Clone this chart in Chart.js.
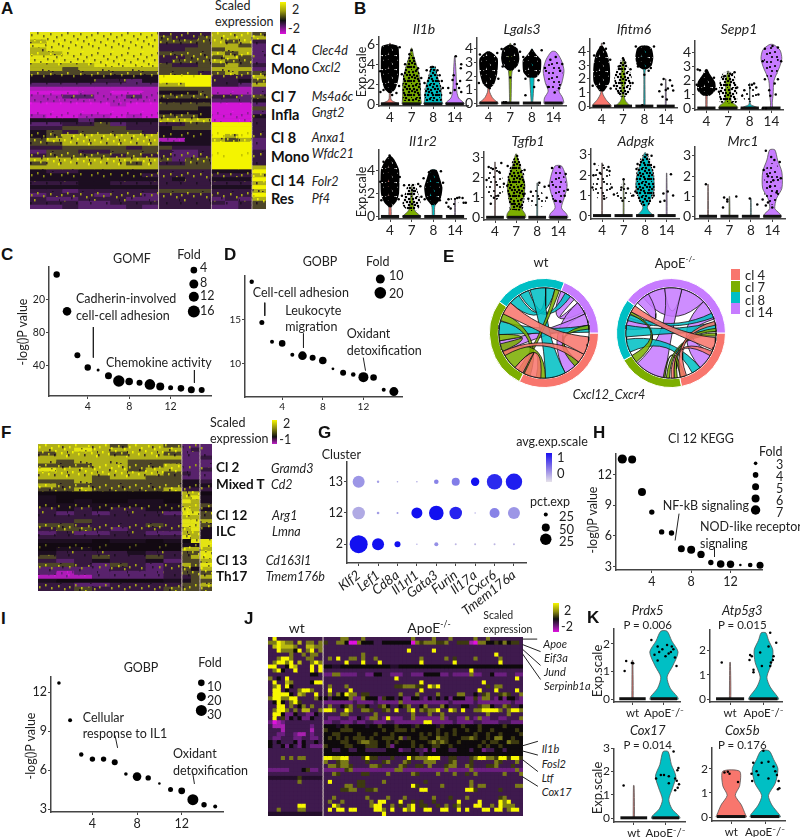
<!DOCTYPE html>
<html>
<head>
<meta charset="utf-8">
<title>Figure</title>
<script src="https://cdn.jsdelivr.net/npm/chart.js@4/dist/chart.umd.js"></script>
<style>
html,body{margin:0;padding:0;background:#fff}
#page{position:relative;width:800px;height:837px;overflow:hidden;background:#fff}
canvas{position:absolute}
.t{position:absolute;white-space:nowrap;line-height:1;font-family:Lato,"Open Sans",sans-serif;font-size:12.5px;color:#222;transform:translateY(-50%)}
.c{transform:translate(-50%,-50%)}
.r{transform:translate(-50%,-50%) rotate(-90deg)}
.i{font-style:italic}
.b{font-weight:700;font-size:14.5px;color:#111}
.L{font-family:"Liberation Sans",Arial,sans-serif;font-weight:700;font-size:17px;color:#111}
.bar{position:absolute}
.t sup{font-size:.62em;line-height:0}
</style>
</head>
<body>
<div id="page"></div>
<script>
// ---------- data: bubble panels
var indexX = [1,2,3,4,5,6,7,8,9,10,11,12,13,14,15];
var cValue = [150,105.6,52.8,38,35,28,21.6,21,19.6,17.6,15,13.6,12.8,11,10.8];
var cFold = [3.2,4.3,3,3.2,1.5,3.5,5.7,3.8,3,5.3,4,2.5,3.3,3.5,3];
var dValue = [19.35,14.7,12.5,12.3,11,10.9,10.65,10.35,9.4,8.95,8.75,8.45,8.4,7,6.8];
var dFold = [2.2,2.5,2,3.3,2,4.3,3,3.8,1.4,3,2.3,5,3.3,2,4.5];
var hValue = [13.54,13.5,10.3,8.34,6.4,6.3,4.75,4.65,4.2,3.4,3.26,3.23,3.16,3.16,3.13];
var hFold = [4.6,4,4,2.7,2.7,2.7,3.5,4,3.7,2.7,3.8,3.7,1.3,2.3,3.5];
var iValue = [12.72,9.85,7.2,6.85,6.85,6.6,5.7,5.5,5.4,4.97,4.5,4.4,3.72,3.33,3.2];
var iFold = [1.8,2,2.2,2.7,2.7,3,1.8,4.3,2.7,1.3,2.5,3.4,5.5,2.7,2];

// ---------- data: dot plot G
var gGenes = ["Klf2","Lef1","Cd8a","Il1rl1","Gata3","Furin","Il17a","Cxcr6","Tmem176a"];
var gClusters = ["2","12","13"];
var gPct = [[9,6,3,.7,2,1,1,1,1],[6.3,1.3,1,5.5,7.3,6.3,.7,5,6],[6,1.2,.8,.8,2.3,4,4.2,7.7,8.2]];
var gAvg = [[1,1,1,-.2,.0,-.3,-.3,-.3,-.3],[-.2,-.1,-.1,1,1,.85,-.2,.1,-.05],[-.05,-.1,-.2,-.2,.1,.15,1,.8,.9]];

// ---------- data: chords, [from start, from end, to start, to end, cluster], degrees clockwise from 3 o'clock
var clusterColors = ["#F8766D","#7CAE00","#00BFC4","#C77CFF"];
var clusterNames = ["cl 4","cl 7","cl 8","cl 14"];
var wtSectors = [117,98,77,68];
var apoeSectors = [79,71,67,143];
var wtChords = [[5,28,205,222,0],[94,116,118,130,0],[28,40,150,156,0],[88,100,130,155,1],[196,206,108,117,1],[284,290,120,125,1],[350,355,40,47,1],[156,166,170,178,1],
 [62,88,252,272,2],[350,359,178,195,2],[222,236,272,284,2],[238,250,298,306,2],[155,170,335,350,3],[40,62,318,335,3],[292,312,318,332,3]];
var apoeChords = [[6,22,208,217,0],[24,30,86,90,0],[70,78,345,350,0],[82,86,354,358,1],[92,96,0,4,1],[72,78,98,100,1],[140,150,205,208,1],
 [50,62,155,172,2],[175,190,346,358,2],[196,204,334,340,2],[98,138,262,284,3],[26,50,316,342,3],[185,200,222,240,3],[232,262,284,316,3]];

// ---------- data: violins. shape / cloud are [y,half width,...]; dots are [x offset,y,...]
var il1bShape = [[0,.42,.12,.3,.4,.06,1,.03,3,.05,5,.05,6.1,.02],[0,.44,.5,.42,2,.4,3,.34,4,.22,4.8,.1,5.6,.02],[0,.44,.3,.4,1,.38,2,.3,3,.16,3.7,.08],[0,.44,.2,.38,.6,.18,1.2,.1,2.5,.07,3.5,.05,4.8,.01]];
var il1bCloud = [[1.1,.06,1.5,.25,2.2,.36,3,.42,5,.42,5.8,.38,6,.1],[.3,.4,2,.42,3,.38,4,.22,5,.08],[.3,.38,1,.42,2,.35,3,.2,3.8,.1],[]];
var il1bDense = [3,2,2,0];
var il1bDots = [[-.44,1.2,-.3,1.4,.42,1.8,.3,1.1,.1,.9,-.45,3.3,.45,5.7],[-.1,5,0,5.4,.1,4.6,-.3,4,.3,3.6,.45,2.6,-.45,3],[-.3,3.4,.2,3.4,-.1,3.7,.4,2.3,-.4,2.1,.45,1.6,.3,2.9],[.05,4.8,.3,4,.28,3.6,-.1,2.4,.1,2,-.3,1.6,.2,1.6,-.2,1.1,.3,1.2,0,1.4,-.05,2.9,.25,2.3]];

var lgals3Shape = [[0,.45,.15,.35,.4,.18,.9,.04,2,.05,3.7,.02],[0,.03,2,.06,3,.12,4.4,.02],[0,.03,2,.1,3.5,.05,4,.02],[0,.45,.4,.42,.9,.25,1.5,.38,2.4,.48,3.2,.35,3.8,.1]];
var lgals3Cloud = [[1.1,.05,1.4,.25,2.2,.4,3.3,.42,3.8,.1],[2.4,.1,2.8,.35,3.3,.42,4,.35,4.3,.1],[1.9,.2,2.3,.4,3.2,.42,3.6,.2,3.9,.05],[1,.25,2,.4,3,.35]];
var lgals3Dense = [3,3,3,1];
var lgals3Dots = [[-.4,3.6,.4,3.7,.2,3.4,-.45,1.5,.45,1.8,.05,1.1],[-.4,4,.2,4.35,.45,3.8,-.35,2.7,.4,2.4,0,1.9,-.3,.08,-.2,.08],[.45,3.9,0,3.9,-.4,3.4,.3,1.7,-.3,1.8,.1,1.2,-.3,.6],[-.25,1.2,.25,1.1,.05,.8,.4,2.9,-.4,2.6,.1,3.4,-.15,3.2,.3,2.4]];
var ifitm6Shape = [[0,.45,.15,.4,.5,.2,1,.04,2.5,.06,4,.04,4.6,.01],[0,.42,.1,.3,.4,.12,.8,.05,2,.1,3,.06,3.5,.01],[0,.03,2.5,.03,3,.1,3.8,.14,4.4,.02],[0,.02,2,.01]];
var ifitm6Cloud = [[1.1,.1,1.8,.38,3,.38,3.9,.25,4.4,.05],[.7,.1,1.2,.35,2.2,.4,3,.2,3.5,.05],[2.7,.1,3,.35,3.6,.42,4.2,.35,4.4,.2],[]];
var ifitm6Dense = [3,2,3,0];
var ifitm6Dots = [[.1,4.6,-.05,4.3,.2,4.2,-.35,3.7,.4,3.4,-.42,1.5,.42,1.3],[0,3.5,.1,3.2,-.2,2.9,.35,2.7,-.42,1.5,.45,1.7,-.2,1],[-.1,.08,0,2.3,.2,2.6,-.4,4.35,.45,4.35,-.3,2.9,.3,2.8],[-.1,2,.2,1.9,-.2,1.6,.3,1.5,.1,1.3,-.3,1.1,.35,1.15,0,1.2,-.15,.7,.05,.5]];
var sepp1Shape = [[0,.03,2.8,.02],[0,.45,.2,.38,.5,.15,1,.12,2,.1,2.7,.01],[0,.42,.15,.2,.3,.03,1.8,.01],[0,.05,.4,.04,1,.08,2,.12,3,.38,3.6,.48,4.2,.4,4.6,.1]];
var sepp1Cloud = [[.9,.15,1.3,.42,1.9,.4,2.5,.15,2.8,.05],[.4,.38,1.2,.42,2,.38,2.6,.2],[.5,.2,1,.35,1.5,.2,1.8,.08],[2.2,.2,3,.32,4,.32,4.4,.1]];
var sepp1Dense = [3,2,1,1];
var sepp1Dots = [[-.4,2.8,-.3,2.75,.02,2.7,.35,2.2,-.45,1.7,.45,1.4],[.3,2.6,.1,2.5,-.2,2.3,.42,1.5,-.42,1.2],[.2,1.8,.1,1.7,.3,1.5,-.25,1.3,-.35,.9,.4,1],[-.05,.9,.2,1,.15,1.8,-.3,2.1,.3,2.1,-.1,1.3,.05,4.5,-.3,4.3,.3,4.4,-.4,3.4,.45,3.4,-.4,0,-.25,0]];
var il1r2Shape = [[0,.05,.9,.05,3,.1,5,.02],[0,.42,.15,.35,.5,.15,1,.08,2.7,.01],[0,.05,.8,.06,2,.2,3,.25,4,.1],[0,.02,1.6,.01]];
var il1r2Cloud = [[.8,.05,1.3,.3,2,.42,4,.42,4.9,.2,5.2,.05],[.5,.18,1,.42,1.7,.35,2.8,.15],[1,.1,1.6,.35,2.5,.42,3.3,.3,4,.15],[1,.1,1.6,.2]];
var il1r2Dense = [3,2,3,1];
var il1r2Dots = [[-.02,5.25,.2,4.6,-.3,4.7,.45,3.4,-.45,3,-.4,1.4,.4,1.5],[.4,2.6,.3,2.8,-.35,2.7,-.45,1.8,.45,1.7,.1,2.2],[.35,3.9,-.2,3.8,-.45,3.3,.45,2.9,-.4,1.5,.3,1.4],[.35,1.6,.2,1.65,-.4,1.2,-.3,1.5,.1,1.6,.5,1.2,-.2,.7,-.3,.85,.4,1.2]];
var tgfb1Shape = [[0,.02,2.8,.01],[0,.45,.2,.42,.5,.25,1,.35,1.6,.42,2.2,.3,2.8,.12,3.2,.02],[0,.02,1.75,.01],[0,.45,.2,.38,.5,.15,1,.28,1.6,.42,2.2,.32,2.6,.15]];
var tgfb1Cloud = [[.9,.1,1.4,.42,2,.35,2.6,.2],[.4,.3,1.4,.42,2.2,.38,3,.1],[.5,.15,.8,.42,1.1,.3,1.7,.05],[.8,.25,1.6,.38,2.2,.25,2.5,.08]];
var tgfb1Dense = [1,2,1,1];
var tgfb1Dots = [[-.3,2.55,-.1,2.45,.3,2.75,.2,2.3,-.4,1.9,.42,1.7,-.05,1,.15,1.1,-.2,.7],[.05,3.1,-.4,2.6,.4,2.4,-.42,1.6,.4,1.2,-.1,.7,.2,.55],[.1,1.75,-.3,1.3,.35,1.55,-.42,.95,.45,1],[.05,2.55,-.3,2.5,.35,2.2,-.45,1.6,.45,1.4,.1,.8,-.15,.85,.3,1.1]];
var adpgkShape = [[0,.02,2.6,.01],[0,.02,1.8,.01],[0,.42,.15,.25,.4,.1,.8,.25,1.4,.42,2,.38,2.6,.2,3.1,.02],[0,.02,2.1,.01]];
var adpgkCloud = [[.8,.15,1.2,.42,2,.38,2.5,.15],[.7,.3,1,.42,1.4,.12,1.8,.03],[.5,.15,1,.42,2,.42,2.6,.3,3,.1],[]];
var adpgkDense = [1,1,2,0];
var adpgkDots = [[-.35,2.55,.3,2.4,.35,2.2,-.4,2,-.1,2.1,.45,1.4,-.45,1.4,.1,.85],[0,1.8,-.1,1.4,.2,1.35,-.45,1.05,.45,1,-.05,.75],[.1,3,.3,2.95,-.35,2.55,.42,2.4,-.4,2.3,-.45,1.2,.4,1],[.2,2.05,-.15,1.1,.05,1.2,.3,1,-.1,.75,-.3,.7]];
var mrc1Shape = [[0,.02,1.6,.01],[0,.02,1,.01],[0,.02,.9,.01],[0,.42,.15,.35,.4,.12,.9,.2,1.4,.45,2.2,.45,2.8,.25,3.3,.12]];
var mrc1Cloud = [[],[],[],[.6,.1,1,.35,2,.35,2.6,.2]];
var mrc1Dense = [0,0,0,1];
var mrc1Dots = [[-.1,1.6],[-.25,.95,-.1,.85,-.1,.75,.32,1,-.3,.45],[-.05,.9,.3,.6,.55,.85],[-.3,3.25,-.05,2.95,.1,2.8,.35,2.7,-.4,2.3,.4,1.9,-.3,.55,-.2,.7,0,.45,.05,1.8,-.1,1.5,.2,1.2,-.2,2]];

var prdx5Shape = [[0,.02,1.4,.01],[0,.45,.1,.42,.4,.2,.8,.1,1.2,.28,1.7,.45,2.1,.25,2.45,.1]];
var prdx5Dots = [[-.25,1.02,-.2,1.38,.02,1.3,-.02,1.31],[-.4,2.13,-.2,1.9,-.05,1.8,.1,1.95,.3,1.8,.22,1.7,-.3,1.6,.05,1.55,.35,1.5,.4,1.2,-.2,1.4,.15,1.65,-.15,1.7,.25,1.9]];
var atp5g3Shape = [[0,.02,1.5,.01],[0,.45,.1,.42,.5,.2,.9,.1,1.5,.25,2,.28,2.4,.15,2.7,.07]];
var atp5g3Dots = [[-.25,1.5],[.2,2.7,.38,2.3,.15,2.15,-.1,1.9,-.4,1.8,-.35,1.75,.3,1.75,.28,1.6,.22,1.5,-.05,1.35,-.3,1.2,-.3,1.1,.2,1.35,-.42,1.6]];
var cox17Shape = [[0,.02,1.4,.01],[0,.45,.1,.42,.4,.2,.8,.1,1.3,.22,1.8,.32,2.3,.18,2.85,.08]];
var cox17Dots = [[-.32,1.4],[.25,2.85,.4,2.15,.37,2.05,-.15,1.85,-.05,1.85,.1,1.8,-.3,1.7,.3,1.7,.35,1.6,.42,1.45,.38,1.3,.3,1.2,.1,1.5]];
var cox5bShape = [[0,.45,.1,.42,.5,.3,.9,.12,1.3,.25,1.9,.25],[0,.45,.1,.42,.5,.2,.9,.1,1.4,.3,2,.38,2.4,.25,2.75,.12]];
var cox5bDots = [[-.2,1.85,-.1,1.88,-.05,1.8,.2,1.45],[-.05,2.75,-.35,2.25,-.1,2.25,.1,2.3,.25,2.1,-.4,1.8,-.2,1.75,.35,1.75,.1,1.6,.4,1.5,-.38,1.5,.42,1.2,.38,1.15,-.25,1.9,.3,1.9]];

// ---------- data: heatmaps, one character per block of cells
var aRows = ["YYYYYYYY|pppp|yyy|o","YYYYYYYY|oppo|yyy|y","yYYYYYYY|oooo|yoy|p","YYYYYYYY|pppo|yyo|P","yYYYYYYY|ppoo|oyy|P","yyYYYYYY|oooo|yoy|P","YYYYYYYY|ppoo|oyo|P","YYYYYYYY|pooo|yoo|P","yyyyYYYY|oppo|oyo|p",
"yyoyyyyy|oooo|yyy|P","oooooooo|ooop|oyo|o","kkkkkkkk|SSSS|ppp|y","kkkkppPk|SSSS|ppk|o","PPPPPPPP|yySS|ppP|y","mmmmmmmm|oooo|mmm|P","MMMmmMMm|kkko|mmm|P","mmPPmmPm|oooo|ppP|o","mmmmmmmm|kkkk|PPP|k",
"MMMMMmMM|oooo|MMM|P","MMMMMMMM|oook|MMM|o","MMMMMMMM|kkkk|MMM|P","mMMmmMmM|oook|MMM|k","kkkPkkkk|yyyy|MMM|p","PPppoPpp|ppoo|SSS|p","ppoooopp|kooo|SSS|p","kopoooop|kkkk|SSS|p","koyyyyyy|kkkk|SyS|p",
"oyyyyyyy|mmkk|yoy|P","ooyyyyyy|kkkk|SSS|P","ppoooopo|oppp|SSS|P","Pooppooo|pPPp|SSS|p","poooopop|pPPp|SSS|p","yyyyyyyy|oPoo|SSS|p","oyyyyyoy|ppoo|SSS|p","yyyyyyyy|oooo|SSS|y",
"kppkkkkk|pppp|kkk|S","kkkkkkkp|pppp|ppp|y","kkkkkkkk|pkpp|kkk|S","pppkkppp|pppp|ppp|y","kkkkkkkk|pppp|kkk|S","ppPppppp|oooo|ppp|y","PpppPppP|pppp|ppp|S","pPPpppPP|pppp|PpP|y","pppPPppp|pppp|pPp|o","PPpPPPpP|pppp|PPp|o"];
var aWidths = [16,16,16,16,16,16,16,16,1,13,13,13,13,.8,13.3,13.3,13.3,.8,14];
var fRows = ["yyyyoyyo|PP|P","yyYyyyyy|Pp|P","oyyyoyyo|PP|P","yyyyyyyy|PP|p","yoyyyooo|PP|P","oooyyooy|PP|P","Yyyyyoyy|PP|p","yyyyyyyo|pP|P","yyyoyyoo|PP|P","ooyooooo|kk|p","yooooooo|kk|k","ooyooooy|pp|p",
"KKKKKKKK|yy|K","kKKKKKKK|yY|k","kKkKKkkK|Yy|k","kkkkkkkk|yy|o","pkpkppkk|Yy|k","pPpPpppP|YY|o","pppppppp|yy|o","ppoppppp|YY|y","ooppppop|YY|o","poopPppp|yY|k","PpPPppPP|yy|k","pppppppp|Yy|k",
"kkkKkkKk|KY|Y","KKKKKKKK|kk|Y","KkkKKKKK|yy|y","kppppkpp|oo|Y","oppoppop|oy|Y","pPpkppkP|oo|y","oopPopPp|yo|Y","PPPPppPp|ok|y","PmPPPPPp|oo|o","mmmPPPPp|po|y","kKKKKKKk|ko|o","ppPPpppp|oo|y","ppoppppo|oo|o"];
var fWidths = [18,18,18,18,18,18,18,18,1,8.6,8.6,1,12];
var jRows = [
"3933333333333|333377333733333333333733337333733333733733333333",
"7798773837737|633775007555335555555076777667336661077556575663",
"3898887338877|333333333333333333333333333333333333333333333333",
"3397775937937|333333333333333333339333339333333333333333333333",
"3333373373773|333333333733333333333333333333333333333339333333",
"3379973337733|373933773733733333333337333337363333733333733333",
"3799793833797|333339333933393333333339333333393333333333933333",
"9933598333939|554455555555555544555555555555555555555555555555",
"3795339333939|333333333333333333333333333333333339333333333333",
"3333333333553|227722223322553322233222555522322227223352223322",
"7353933333333|333333333333333339333333333333333333333333333393",
"3933873333599|333333333333333333333339333333333333339333333333",
"3793953333333|373337333333333336677766397933333333333637733333",
"3993533799733|393333933333333333333339333333333333393339333393",
"3999953873393|373759773663333333733373333733337733536733676337",
"7997799333375|535555722755526553522553253535255522627732525532",
"3595379633333|222222232222322222722222222222322222322222222322",
"3399373573733|373356736653367533567335733375333553367753376335",
"3799737388337|997339733776336739337937677933973933779999737997",
"3995225332253|333377333333733333333733373373333333333733337333",
"3936253522533|322233225327732922233722222272332273272233223337",
"2012333333333|223322232233222332222222992222232222332222333222",
"3111333333233|555456555545565556555465555465555655565555565555",
"3331333333133|655566655555556556665655555655565565565565555565",
"3322332113233|556655556555655565555556565656565555655655655556",
"3223332233223|565656566656556665736556655766555667655657755655",
"5353335253353|555566556776655656555655567676556555556566557665",
"5335253253222|655556655566655625555656556655655555565655655555",
"3333333333333|553355335533333555233533252555335553552335535555",
"3333333333333|555555555555555555555553555555555555555555555555",
"3337373773333|998899333696633363339677799933663336799776996996",
"3333333333333|733677333363336733376333777333673336333337633373",
"3333333333333|377677633337763333763366373336773376333667333633",
"2222233356223|222226722222222227722222222227222227222222222272",
"3333333333333|337633333663333733333763333733373363733333373337",
"4444444644444|333333333333333333333333333333333333333333333333",
"3333333733333|393333336633337333333333633333333337333333333333",
"3333333333333|333337736633333333333963333373333337377333333377",
"3333333333333|333366773366733333333339933333333399633333633333",
"3333333333333|333333333333333333333333333333333333333333333333",
"3333333333333|337333333373333733373333337333633373333333673333",
"3333333333333|373373333337399333933636336333339333393333979333",
"3333333993333|339733333337993373637936633637367333993373977733",
"3373333773333|393993993333997393397933993399339393339939937993",
"4444444444444|333333333333339333333333333333333333333333333333"];

// ---------- drawing helpers
var page = document.getElementById("page");
Chart.defaults.font.family = "Lato, 'Open Sans', sans-serif";
Chart.defaults.color = "#222";
Chart.defaults.animation = false;
Chart.defaults.responsive = false;
Chart.defaults.maintainAspectRatio = false;
Chart.defaults.events = [];
Chart.defaults.plugins.legend.display = false;
Chart.defaults.plugins.tooltip.enabled = false;

function put(html, x, y, cls, size) {
	var d = document.createElement("div");
	d.className = "t " + (cls || "");
	d.innerHTML = html;
	d.style.left = x + "px";
	d.style.top = y + "px";
	if (size) d.style.fontSize = size + "px";
	page.appendChild(d);
}
function colorBar(x, y, w, h, css) {
	var d = document.createElement("div");
	d.className = "bar";
	d.style.cssText = "left:"+x+"px;top:"+y+"px;width:"+w+"px;height:"+h+"px;background:"+css;
	page.appendChild(d);
}
function addCanvas(x, y, w, h) {
	var c = document.createElement("canvas");
	c.width = w; c.height = h;
	c.style.left = x + "px"; c.style.top = y + "px";
	c.style.width = w + "px"; c.style.height = h + "px";
	page.appendChild(c);
	return c;
}
// axis with given tick values and labels, always L shaped
function axis(min, max, vals, labels, size, fitKey, fitVal, tickExtra) {
	var o = {
		type: "linear", min: min, max: max,
		afterBuildTicks: function(s) { s.ticks = vals.map(function(v) { return {value: v}; }); },
		afterFit: function(s) { s[fitKey] = fitVal; },
		ticks: {autoSkip: false, maxRotation: 0, minRotation: 0, padding: 1, font: {size: size}, color: "#222",
			callback: function(v, i) { return labels ? labels[i] : String(v); }},
		grid: {drawOnChartArea: false, tickLength: 3, color: "#444"},
		border: {color: "#444", width: 1.5}
	};
	if (tickExtra) Object.assign(o.ticks, tickExtra);
	return o;
}
// chart whose plot area sits exactly on box = [left, top, right, bottom] in page pixels
function plotChart(type, box, datasets, xa, ya, L, B) {
	var T = 10, R = 10;
	var c = addCanvas(box[0]-L, box[1]-T, Math.round(box[2]-box[0]+L+R), Math.round(box[3]-box[1]+T+B));
	return new Chart(c, {type: type, data: {datasets: datasets},
		options: {layout: {padding: {top: T, right: R, left: 0, bottom: 0}}, scales: {x: xa, y: ya}}});
}
function bubblePanel(box, xRange, yInfo, values, folds, yLabels, ySize, xSize) {
	var pts = values.map(function(v, i) { return {x: indexX[i], y: v, r: folds[i]}; });
	var xa = axis(xRange[0], xRange[1], [4,8,12], null, xSize, "height", 24);
	var ya = axis(yInfo[0], yInfo[1], yInfo[2], yLabels, ySize, "width", 26);
	plotChart("bubble", box, [{data: pts, backgroundColor: "#000", borderWidth: 0, clip: false}], xa, ya, 26, 24);
}

// speckle tiles stand in for the single cell noise of the big heatmaps
var speckSpots = [[1,2],[7,0],[13,3],[20,1],[26,4],[4,7],[10,9],[17,6],[23,8],[28,11],[2,13],[8,15],[15,12],[21,14],[26,17],[5,18],[12,17],[18,18],[24,2],[11,5],[16,10],[0,10],[29,7],[22,19]];
var textures = {Y:["#e4e412","#6c6a1e",14,"#f8f800",4],y:["#b0b018","#f4f400",10,"#3a2c28",8],o:["#4e4628","#c8c810",9,"#1e1020",6],k:["#1c0e20","#8c8c18",4,"#1c0e20",0],K:["#120912","#5a5a18",2,"#120912",0],p:["#36183f","#a8a818",6,"#1c0e20",4],P:["#58226c","#a0a018",3,"#2a1232",6],m:["#ae1cb8","#6c1c80",10,"#d216d6",4],M:["#d216d6","#8e1c98",7,"#e818e8",4],S:["#f4f400","#c4c400",3,"#f4f400",0]};
var levels = ["#e010e0","#a821b0","#6c1f80","#3f1a4e","#240e2c","#0e0a0c","#3d3a10","#7a7a18","#b8b810","#f8f800"];
function cellFill(ch) {
	if (ch === "|") return "#c9b9b4";
	if (textures[ch]) {
		var t = textures[ch], c = document.createElement("canvas"), i, s;
		c.width = 30; c.height = 20;
		var g = c.getContext("2d");
		g.fillStyle = t[0]; g.fillRect(0,0,30,20);
		g.fillStyle = t[1];
		for (i = 0; i < t[2]; i++) { s = speckSpots[i]; g.fillRect(s[0], s[1], 1.6, 2.4); }
		g.fillStyle = t[3];
		for (i = 0; i < t[4]; i++) { s = speckSpots[23-i]; g.fillRect(s[0], s[1], 1.6, 2.4); }
		return g.createPattern(c, "repeat");
	}
	return levels[+ch];
}
var fillCache = {};
function heatmap(box, rows, widths) {
	var c = addCanvas(box[0], box[1], box[2]-box[0], box[3]-box[1]);
	c.style.background = "#2a1230";
	var total = widths.reduce(function(a, b) { return a + b; }, 0);
	var sets = widths.map(function(w, col) {
		return {
			data: rows.map(function() { return w; }),
			backgroundColor: rows.map(function(r) {
				var ch = r[col] || "3";
				if (!fillCache[ch]) fillCache[ch] = cellFill(ch);
				return fillCache[ch];
			}),
			borderWidth: 0, barPercentage: 1, categoryPercentage: 1
		};
	});
	new Chart(c, {type: "bar", data: {labels: rows.map(function(r, i) { return i; }), datasets: sets},
		options: {indexAxis: "y", layout: {padding: 0},
			scales: {x: {display: false, stacked: true, min: 0, max: total}, y: {display: false, stacked: true}}}});
}

// stipple tiles for the crowded point clouds of the violins
var stippleSpots = [[2,3],[9,1],[6,7],[12,9],[3,12],[8,12],[12,3],[1,8],[5,2],[10,6],[7,10],[3,6],[13,12],[6,0],[0,0],[11,12],[4,9],[8,4],[13,6],[0,12]];
var stippleCounts = [0,8,20,20];
var stippleSizes = [0,1.1,1.25,2.4];
function stipple(level) {
	var c = document.createElement("canvas");
	c.width = 14; c.height = 14;
	var g = c.getContext("2d");
	g.fillStyle = "#000";
	for (var i = 0; i < stippleCounts[level]; i++) {
		g.beginPath();
		g.arc(stippleSpots[i][0], stippleSpots[i][1], stippleSizes[level], 0, 7);
		g.fill();
	}
	return g.createPattern(c, "repeat");
}
function outline(centre, flat) {
	var left = [], right = [];
	for (var i = 0; i < flat.length; i += 2) {
		left.push({x: centre - flat[i+1], y: flat[i]});
		right.unshift({x: centre + flat[i+1], y: flat[i]});
	}
	var pts = left.concat(right);
	pts.push(pts[0]);
	return pts;
}
function violinPanel(box, catPx, y0, unit, yVals, catLabels, colors, shapes, clouds, dense, dots, tickSize) {
	var n = catLabels.length;
	var step = (catPx[1]-catPx[0])/(n-1);
	var xmin = 1-(catPx[0]-box[0])/step, xmax = n+(box[2]-catPx[1])/step;
	var ymin = (y0-box[3])/unit, ymax = (y0-box[1])/unit;
	var sets = [];
	catLabels.forEach(function(l, i) {
		var cx = i+1;
		sets.push({data: outline(cx, shapes[i]), showLine: true, fill: "shape", tension: .25, backgroundColor: colors[i],
			borderColor: "#555", borderWidth: .8, pointRadius: 0, order: 4});
		if (clouds && clouds[i].length) {
			sets.push({data: outline(cx, clouds[i]), showLine: true, fill: "shape", tension: .2, backgroundColor: stipple(dense[i]),
				borderWidth: 0, borderColor: "rgba(0,0,0,0)", pointRadius: 0, order: 3});
		}
		sets.push({data: [{x: cx-.42, y: .02},{x: cx+.42, y: .02}], showLine: true, borderColor: "#111", borderWidth: 3, pointRadius: 0, order: 2, clip: false});
		var pts = [];
		for (var k = 0; k < dots[i].length; k += 2) pts.push({x: cx+dots[i][k], y: dots[i][k+1]});
		sets.push({data: pts, pointRadius: 1.25, backgroundColor: "#000", borderWidth: 0, order: 1, clip: false});
	});
	var xa = axis(xmin, xmax, catLabels.map(function(l, i) { return i+1; }), catLabels, tickSize, "height", 22);
	var ya = axis(ymin, ymax, yVals, null, tickSize+.5, "width", 24);
	plotChart("scatter", box, sets, xa, ya, 24, 22);
}

// ---------- A
heatmap([30,32,266,209], aRows, aWidths);
put("A", 1, 8, "L"); put("Scaled", 215, 6); put("expression", 215, 22);
colorBar(279.5, 2, 6.5, 32, "linear-gradient(#f6f600 0,#a0a010 28%,#111 58%,#5a1a6a 75%,#e010e0 100%)");
put("2", 292, 10); put("-2", 288, 29);
put("Cl 4", 271, 50, "b"); put("Mono", 271, 68.7, "b"); put("Clec4d", 311.7, 51, "i"); put("Cxcl2", 311.7, 67.7, "i");
put("Cl 7", 271, 96.7, "b"); put("Infla", 271, 115, "b"); put("Ms4a6c", 311.7, 96.7, "i"); put("Gngt2", 311.7, 113, "i");
put("Cl 8", 271, 138, "b"); put("Mono", 271, 156.7, "b"); put("Anxa1", 311.7, 138, "i"); put("Wfdc21", 311.7, 154, "i");
put("Cl 14", 271, 180.7, "b"); put("Res", 271, 199, "b"); put("Folr2", 311.7, 182, "i"); put("Pf4", 311.7, 199, "i");

// ---------- B
var cats4 = ["4","7","8","14"];
violinPanel([379,36.7,468.3,106],[390,455],104,10,[0,2,4,6],cats4,clusterColors,il1bShape,il1bCloud,il1bDense,il1bDots,13.5);
violinPanel([476.7,38.3,565.7,106.7],[488.3,553.3],104,13.67,[0,1,2,3,4],cats4,clusterColors,lgals3Shape,lgals3Cloud,lgals3Dense,lgals3Dots,13.5);
violinPanel([590,39.3,677.3,108.3],[601.7,666],106.7,13.75,[0,1,2,3,4],cats4,clusterColors,ifitm6Shape,ifitm6Cloud,ifitm6Dense,ifitm6Dots,13.5);
violinPanel([695.3,40.7,783.3,110],[706.7,771.7],108.3,13.9,[0,1,2,3,4],cats4,clusterColors,sepp1Shape,sepp1Cloud,sepp1Dense,sepp1Dots,13.5);
violinPanel([379,150,466,219],[390,455],216.7,11.67,[0,2,4],cats4,clusterColors,il1r2Shape,il1r2Cloud,il1r2Dense,il1r2Dots,13.5);
violinPanel([484,151.7,570,220],[495,558.3],217.7,20,[0,1,2,3],cats4,clusterColors,tgfb1Shape,tgfb1Cloud,tgfb1Dense,tgfb1Dots,13.5);
violinPanel([590.7,149.3,678.3,219],[601.7,666],216,20.33,[0,1,2,3],cats4,clusterColors,adpgkShape,adpgkCloud,adpgkDense,adpgkDots,13.5);
violinPanel([695.3,147.3,785,219],[708.3,772.3],216.7,20.17,[0,1,2,3],cats4,clusterColors,mrc1Shape,mrc1Cloud,mrc1Dense,mrc1Dots,13.5);
put("B", 354, 8, "L");
put("Il1b", 424, 29, "c i", 14); put("Lgals3", 522, 29, "c i", 14); put("Ifitm6", 634, 29, "c i", 14); put("Sepp1", 739, 29, "c i", 14);
put("Il1r2", 423, 141, "c i", 14); put("Tgfb1", 528, 141, "c i", 14); put("Adpgk", 636, 141, "c i", 14); put("Mrc1", 743, 141, "c i", 14);
put("Exp.scale", 362, 72, "r", 12.5); put("Exp.scale", 362, 192, "r", 12.5);

// ---------- C
bubblePanel([49,267,211,396],[.26,15.9],[3.6,159,[40,80,120]],cValue,cFold,["40","80","20"],10.5,10.5);
put("C", 1, 254, "L"); put("GOMF", 132, 259, "c"); put("Fold", 189, 255, "c");
put("4", 200, 268); put("8", 200, 282.7); put("12", 200, 295.7); put("16", 200, 311);
put("Cadherin-involved", 76, 299); put("cell-cell adhesion", 76, 315.7); put("Chemokine activity", 106, 363);
put("-log()P value", 22.7, 331.7, "r");

// ---------- D
bubblePanel([245,276,401.7,396.7],[.34,15.8],[6.18,20,[10,15]],dValue,dFold,null,10,10);
put("D", 224, 254, "L"); put("GOBP", 320, 261.7, "c"); put("Fold", 377.7, 261.7, "c");
put("10", 389, 276); put("20", 389, 294);
put("Cell-cell adhesion", 252.7, 293.3); put("Leukocyte", 285.3, 310.7); put("migration", 285.3, 327);
put("Oxidant", 346.7, 334.3); put("detoxification", 346.7, 351);

// ---------- E
function chordPoints(ch) {
	var pts = [], rad = Math.PI/180, a;
	function on(deg) { return {x: Math.cos(deg*rad), y: -Math.sin(deg*rad)}; }
	function arc(from, to) { for (a = from; a < to; a += 3) pts.push(on(a)); pts.push(on(to)); }
	function bend(p, q) { for (var t = .1; t < 1; t += .1) pts.push({x: (1-t)*(1-t)*p.x + t*t*q.x, y: (1-t)*(1-t)*p.y + t*t*q.y}); }
	arc(ch[0], ch[1]); bend(on(ch[1]), on(ch[2]));
	arc(ch[2], ch[3]); bend(on(ch[3]), on(ch[0]));
	pts.push(on(ch[0]));
	return pts;
}
function circlePoints() {
	var pts = [];
	for (var a = 0; a <= 360; a += 5) pts.push({x: Math.cos(a*Math.PI/180), y: Math.sin(a*Math.PI/180)});
	return pts;
}
function chordPanel(cx, cy, sectors, chords) {
	var ring = addCanvas(cx-55, cy-55, 110, 110);
	new Chart(ring, {type: "doughnut", data: {labels: clusterNames, datasets: [{data: sectors, backgroundColor: clusterColors, borderColor: "#fff", borderWidth: 1}]},
		options: {rotation: 90, cutout: "84%", layout: {padding: 0}}});
	var inner = addCanvas(cx-46, cy-46, 92, 92);
	var sets = chords.map(function(ch) {
		return {data: chordPoints(ch), showLine: true, fill: "shape", backgroundColor: clusterColors[ch[4]]+"dd", borderColor: "#111", borderWidth: .8, pointRadius: 0};
	});
	sets.push({data: circlePoints(), showLine: true, borderColor: "#111", borderWidth: 1, pointRadius: 0, clip: false});
	new Chart(inner, {type: "scatter", data: {datasets: sets}, options: {layout: {padding: 0},
		scales: {x: {display: false, min: -1.02, max: 1.02}, y: {display: false, min: -1.02, max: 1.02}}}});
}
chordPanel(544, 333, wtSectors, wtChords);
chordPanel(671, 333, apoeSectors, apoeChords);
put("E", 443, 256, "L"); put("wt", 541, 262.3, "c", 13); put("ApoE<sup>-/-</sup>", 675, 262.7, "c", 13);
put("Cxcl12_Cxcr4", 609, 395, "c i");
clusterNames.forEach(function(n, i) {
	colorBar(730.7, 269.3+i*11.2, 9.5, 11.2, clusterColors[i]);
	put(n, 745, 275+i*12.3, "", 13);
});

// ---------- F
heatmap([38,444,212,591], fRows, fWidths);
put("F", 1, 432, "L"); put("Scaled", 210, 422.7); put("expression", 210, 439.3);
colorBar(272.3, 420, 4.7, 24, "linear-gradient(#f6f600 0,#8a8a10 35%,#111 70%,#c020c8 100%)");
put("2", 283, 424.3); put("-1", 279.3, 440);
put("Cl 2", 216, 468.3, "b", 13.5); put("Mixed T", 216, 485, "b", 13.5); put("Cl 12", 216, 515.7, "b", 13.5); put("ILC", 216, 532, "b", 13.5); put("Cl 13", 216, 560.7, "b", 13.5); put("Th17", 216, 577, "b", 13.5);
put("Gramd3", 271, 469, "i"); put("Cd2", 271, 485, "i"); put("Arg1", 272, 515.7, "i"); put("Lmna", 272, 532, "i"); put("Cd163l1", 265.7, 560.7, "i"); put("Tmem176b", 265.7, 577, "i");

// ---------- G
var gSets = [];
gClusters.forEach(function(name, row) {
	gGenes.forEach(function(gene, col) {
		var t = Math.max(0, Math.min(1, (gAvg[row][col]+.5)/1.5));
		var col1 = "rgb("+Math.round(215-t*197)+","+Math.round(208-t*192)+","+Math.round(225+t*15)+")";
		gSets.push({data: [{x: col+1, y: row+1, r: gPct[row][col]}], backgroundColor: col1, borderWidth: 0, clip: false});
	});
});
plotChart("bubble", [347,461.7,525.7,562.7], gSets,
	axis(.4,9.62,[1,2,3,4,5,6,7,8,9],gGenes,13.5,"height",56,{minRotation:38,maxRotation:38,font:{size:13.5,style:"italic"}}),
	axis(.4,3.63,[1,2,3],gClusters,12.5,"width",20), 20, 56);
put("G", 318, 432, "L"); put("Cluster", 321.7, 455);
put("avg.exp.scale", 552, 441.7, "c");
colorBar(546, 452.7, 6, 29.5, "linear-gradient(#1a10f0,#8f7fe6 55%,#e6e2ea)");
put("1", 557, 457, "", 13); put("0", 557, 472.7, "", 13);
put("pct.exp", 550, 501.7, "c"); put("25", 559, 516, "", 13); put("50", 559, 529, "", 13); put("25", 559, 541, "", 13);

// ---------- H
bubblePanel([615.7,454,761.7,570],[.36,15.2],[2.67,14.03,[3,6,9,12]],hValue,hFold,null,12.5,12.5);
put("H", 593, 432, "L"); put("Cl 12 KEGG", 701, 439, "c"); put("Fold", 770.7, 451.7, "c");
put("3", 776, 465); put("4", 776, 477); put("5", 776, 489); put("6", 776, 501); put("7", 776, 513);
put("NF-kB signaling", 662.7, 506); put("NOD-like receptor", 700, 527); put("signaling", 700, 544);
put("-log()P value", 593, 520, "r");

// ---------- I
bubblePanel([51,676.7,222.7,812],[.29,15.7],[2.77,13.18,[3,6,9,12]],iValue,iFold,null,12.5,12.5);
put("I", 1, 618, "L"); put("GOBP", 141, 668, "c"); put("Fold", 210, 662.7, "c");
put("10", 207, 687); put("20", 207, 701); put("30", 207, 715);
put("Cellular", 82.7, 717.7); put("response to IL1", 82.7, 734); put("Oxidant", 173, 754); put("detoxification", 173, 770.7);
put("-log()P value", 31, 745.7, "r");

// ---------- J
heatmap([268,637,523,816], jRows, jRows[0].split("").map(function(ch) { return ch === "|" ? .3 : 1; }));
put("J", 244, 618, "L"); put("wt", 296.7, 628.3, "c", 14); put("ApoE<sup>-/-</sup>", 429, 628.3, "c", 14);
put("Scaled", 483.3, 615, "", 10.5); put("expression", 483.3, 629, "", 10.5);
colorBar(553, 603, 6, 29, "linear-gradient(#f6f600 0,#8a8a10 30%,#111 55%,#6a1a78 78%,#e010e0 100%)");
put("2", 564, 610.7); put("-2", 561, 626.7);
put("Apoe", 543.3, 642.7, "i", 11); put("Eif3a", 544, 657.3, "i", 11); put("Jund", 544, 671, "i", 11); put("Serpinb1a", 544, 685, "i", 11);
put("Il1b", 541.7, 748.3, "i", 11); put("Fosl2", 541.7, 762.7, "i", 11); put("Ltf", 541.7, 777.3, "i", 11); put("Cox17", 541.7, 791, "i", 11);

// ---------- K
var catsK = ["wt","ApoE\u207B/\u207B"];
var colorsK = ["#F8766D","#00BFC4"];
violinPanel([614.3,629,680,701.7],[632.7,664],699,27.67,[0,1,2],catsK,colorsK,prdx5Shape,null,null,prdx5Dots,11.5);
violinPanel([710,630,781.7,701.7],[730,763.3],699,24.5,[0,1,2],catsK,colorsK,atp5g3Shape,null,null,atp5g3Dots,11.5);
violinPanel([614.3,749,685,821.7],[634,665.7],818,23.3,[0,1,2,3],catsK,colorsK,cox17Shape,null,null,cox17Dots,11.5);
violinPanel([711.7,748.3,785,821.7],[731,765],817.7,24.2,[0,1,2],catsK,colorsK,cox5bShape,null,null,cox5bDots,11.5);
put("K", 587, 617, "L");
put("Prdx5", 647.7, 610, "c i", 13); put("P = 0.006", 647.7, 625, "c", 11.5);
put("Atp5g3", 742.3, 610, "c i", 13); put("P = 0.015", 742.3, 625, "c", 11.5);
put("Cox17", 647.7, 730, "c i", 13); put("P = 0.014", 647.7, 745, "c", 11.5);
put("Cox5b", 742.3, 730, "c i", 13); put("P = 0.176", 742.3, 745, "c", 11.5);
put("Exp.scale", 596.7, 670.7, "r", 13); put("Exp.scale", 596.7, 788.3, "r", 13);

// ---------- legend dots and leader lines, on one page sized chart
var legendX = [190.7,190.7,190.7,190.7,380,380,548,548,548,761,761,761,761,761,198.3,198.3,198.3];
var legendY = [268,282,295,310,277,291,516,529,541,464,475.7,487.7,499.7,511.3,686.7,700.7,714.7];
var legendR = [3.3,4.5,5,6,4.5,5.8,2,4,5.7,1.8,2.8,3.5,4,4.7,3.3,4.5,5.5];
var leaders = [[88.7,325.7,88.7,356.7],[191.3,369.3,191.3,382.3],[262.7,301,262.7,314.3],[302,332.3,302,346.7],[362.7,356.7,365,370],
 [683.3,515,679.3,542.3],[719.3,549,719.3,559],[110.7,740,113.3,752.7],[189.3,776.7,191.3,789.3],
 [524,642.3,539.3,642.3],[524,647.7,542.7,655],[524,652.3,542.7,669],[524,656.7,542.7,683.3],
 [524,750.7,540,746],[524,755.7,540,760],[524,764.3,540,776.7],[524,781.7,540,791.7]];
var overlaySets = [{data: legendX.map(function(x, i) { return {x: x, y: legendY[i]}; }), pointRadius: legendR, backgroundColor: "#000", borderWidth: 0}];
leaders.forEach(function(l) {
	overlaySets.push({data: [{x: l[0], y: l[1]},{x: l[2], y: l[3]}], showLine: true, borderColor: "#222", borderWidth: 1, pointRadius: 0});
});
new Chart(addCanvas(0,0,800,837), {type: "scatter", data: {datasets: overlaySets},
	options: {layout: {padding: 0}, scales: {x: {display: false, min: 0, max: 800}, y: {display: false, reverse: true, min: 0, max: 837}}}});
</script>
</body>
</html>
